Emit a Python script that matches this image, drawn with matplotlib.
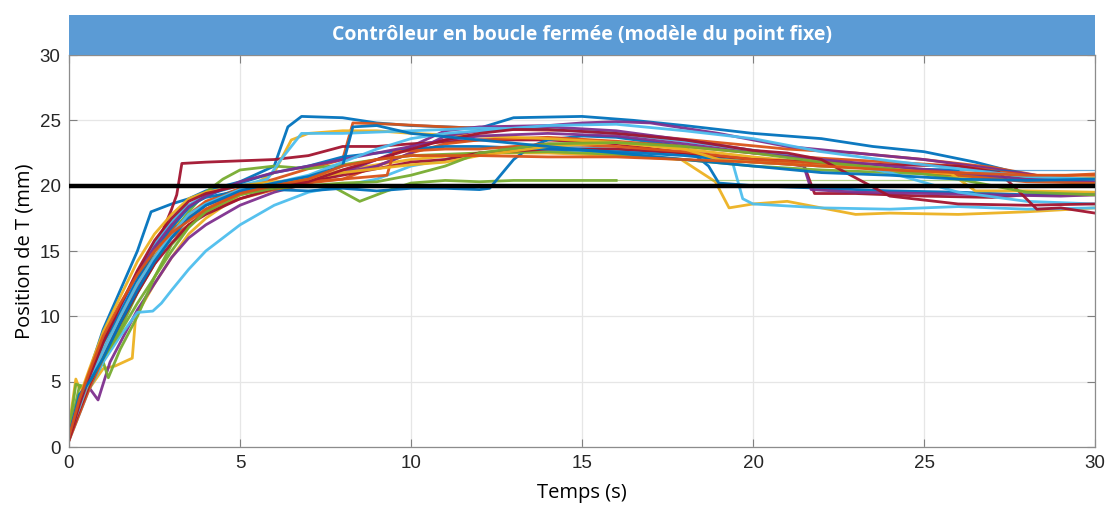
import matplotlib.pyplot as plt
from matplotlib.patches import Rectangle

# essais en boucle fermee : temps (s) et position (mm) de chaque passage
t01 = [0, 0.3, 0.6, 1, 1.5, 2, 2.4, 2.6, 3, 3.5, 4, 5, 6, 6.4, 6.8, 8, 9, 10, 12, 13, 15, 16.5, 18, 20, 22, 23.5, 25, 26.5, 28, 29, 30]
y01 = [0.8, 3.5, 5.8, 9, 12, 15, 18, 18.2, 18.6, 19, 19.6, 20.3, 21.5, 24.5, 25.3, 25.2, 24.8, 24.6, 24.4, 25.2, 25.3, 25, 24.6, 24, 23.6, 23, 22.6, 21.8, 20.8, 20.3, 20.2]
t02 = [0, 0.3, 0.6, 1, 1.5, 2, 2.5, 3, 3.5, 4, 5, 6, 7, 8, 8.3, 9.5, 11, 13, 15, 17, 19, 21, 23, 25, 27, 28.5, 30]
y02 = [0.6, 3, 5.2, 7.5, 10, 12.8, 15, 16.6, 17.8, 18.8, 19.8, 20.5, 21.3, 22, 24.8, 24.7, 24.5, 24.3, 24.2, 23.8, 23.3, 22.8, 22.5, 22, 21.4, 20.7, 20.9]
t03 = [0, 0.2, 0.3, 0.6, 1, 1.35, 1.85, 1.95, 2.5, 3, 3.5, 4, 5, 6, 7, 8, 10, 12, 14, 16, 17.9, 18.9, 19.3, 20, 21, 23, 24, 26, 28, 30]
y03 = [1.5, 5.2, 4.5, 4.5, 6, 6.2, 6.8, 10, 12.5, 14.5, 16.3, 17.5, 19.3, 20, 20.5, 21.2, 22, 22.5, 22.5, 22.3, 22, 20.3, 18.3, 18.6, 18.8, 17.8, 17.9, 17.8, 18, 18.3]
t04 = [0, 0.3, 0.6, 0.85, 1.2, 1.8, 2, 2.5, 3, 3.5, 4, 5, 6, 7, 8, 9, 10, 11, 12, 14, 15, 16, 17, 19, 21, 23, 25, 27, 29, 30]
y04 = [0.8, 3, 4.5, 3.6, 6.5, 9.5, 10.5, 12.5, 14.5, 16, 17, 18.5, 19.5, 20.2, 21, 22, 23, 24.2, 24.5, 24.6, 24.8, 24.9, 24.8, 24, 23, 22.5, 22, 21.3, 20.5, 20.3]
t05 = [0, 0.3, 0.6, 1, 1.15, 1.5, 2, 2.5, 3, 4, 5, 6, 7, 7.8, 8.5, 9.3, 10, 11, 12, 13, 14, 15, 16]
y05 = [1, 4.6, 4.5, 6.5, 5.3, 7.5, 10, 13, 15.5, 18.2, 19.5, 20, 20, 19.8, 18.8, 19.6, 20.2, 20.4, 20.3, 20.4, 20.4, 20.4, 20.4]
t06 = [0, 0.3, 0.6, 1, 1.5, 2, 2.45, 2.7, 3, 3.5, 4, 5, 6, 7, 8, 9, 10, 12, 14, 16, 18, 19.4, 19.7, 20, 22, 24, 26, 28, 30]
y06 = [0.5, 2.5, 4.5, 6.5, 8.5, 10.3, 10.4, 11, 12, 13.6, 15, 17, 18.5, 19.5, 20, 20.5, 21.5, 22.5, 23, 22.8, 22.4, 21.8, 19, 18.6, 18.3, 18.2, 18.4, 18.2, 18.3]
t07 = [0, 0.3, 0.6, 1, 1.5, 2, 2.5, 3, 3.15, 3.3, 4, 5, 6, 7, 8, 9, 10, 12, 14, 16, 18, 20, 21.5, 21.8, 23, 25, 27, 28, 30]
y07 = [0.5, 3, 5, 7, 9.8, 12.5, 15, 18.2, 19.3, 21.7, 21.8, 21.9, 22, 22.3, 23, 23, 23.2, 23.5, 23.5, 23.2, 22.5, 22, 21.5, 19.4, 19.4, 19.2, 19.1, 19.3, 19.3]
t08 = [0, 0.3, 0.6, 1, 1.5, 2, 2.5, 3, 3.5, 4, 5, 6, 7, 8, 9, 10, 11, 12, 12.3, 13, 13.5, 14, 15, 16, 18, 18.7, 19, 20, 22, 24, 26, 28, 30]
y08 = [0.7, 3.2, 5, 7.2, 10, 13, 15.5, 17.3, 18.5, 19.1, 19.6, 19.7, 19.6, 19.8, 19.6, 19.8, 19.8, 19.7, 19.8, 22, 23, 23.5, 23.8, 23.7, 23, 21.5, 20.2, 20, 19.8, 19.6, 19.5, 19.3, 19.4]
t09 = [0, 0.3, 0.6, 1, 1.5, 2, 2.5, 3, 4, 5, 6, 7, 8, 9, 10, 11, 12, 14, 16, 18, 20, 22, 24, 26, 28, 30]
y09 = [0.5, 2.5, 4.5, 6.8, 9.3, 12, 14.3, 16, 18, 19, 19.7, 20.2, 20.5, 21.5, 22.5, 23.2, 23.5, 23.7, 23.4, 23, 22.5, 22.1, 21.8, 21.5, 20.8, 20.5]
t10 = [0, 0.3, 0.6, 1, 1.5, 2, 2.5, 3, 3.5, 4, 5, 6, 6.5, 7, 8, 9, 10, 12, 14, 16, 18, 20, 22, 24, 26, 28, 30]
y10 = [1, 3.8, 5.3, 7.8, 10, 12.5, 14.8, 17, 17.5, 18.5, 19.5, 21, 23.5, 24, 24.2, 24.2, 24, 23.8, 23.6, 23.3, 22.8, 22.2, 21.7, 21.2, 20.7, 20.5, 20.6]
t11 = [0, 0.3, 0.6, 1, 1.5, 2, 2.5, 3, 3.5, 4, 5, 6, 7, 8, 9, 10, 11, 12, 14, 16, 18, 20, 21.4, 21.7, 23, 25, 27, 29, 30]
y11 = [0.8, 3.5, 5, 7.2, 9.5, 12, 14.5, 16.2, 17.5, 18.5, 19.5, 20.2, 20.5, 21, 21.5, 22.5, 23.8, 24.2, 24.5, 24.2, 23.5, 22.7, 22.2, 19.7, 19.5, 19.4, 19.3, 19.2, 19.3]
t12 = [0, 0.2, 0.5, 1, 1.5, 2, 2.5, 3, 3.5, 4, 4.5, 5, 6, 7, 8, 9, 10, 12, 14, 16, 18, 20, 22, 24, 26, 28, 30]
y12 = [1.2, 4.8, 4.6, 6.8, 9, 11.8, 14, 16.3, 18, 19.5, 20.5, 21.2, 21.5, 21.3, 21.6, 22, 22.3, 22.5, 22.6, 22.4, 22, 21.5, 21.2, 21, 20.8, 20.6, 20.5]
t13 = [0, 0.3, 0.6, 1, 1.5, 2, 2.5, 3, 3.5, 4, 5, 5.8, 6.2, 6.8, 8, 10, 12, 14, 16, 18, 20, 22, 24, 26, 28, 30]
y13 = [0.7, 3.3, 5.2, 7.5, 10.3, 13.3, 15.5, 17.3, 18.5, 19.3, 20, 20.5, 22, 24, 24, 24.2, 24.4, 24.3, 24, 23.4, 22.7, 22, 21, 19.5, 18.8, 18.6]
t14 = [0, 0.3, 0.6, 1, 1.5, 2, 2.5, 3, 3.5, 4, 5, 6, 7, 8, 9, 10, 11, 12, 14, 16, 18, 20, 22, 24, 26, 27.2, 27.8, 28.3, 29, 30]
y14 = [0.6, 2.8, 4.8, 7, 9.5, 11.8, 14, 15.6, 17, 17.8, 19, 19.8, 20.3, 20.8, 21.3, 21.8, 22, 22.5, 22.8, 22.8, 22.5, 22, 21.8, 21.6, 21.5, 21, 19.5, 18.2, 18.3, 17.9]
t15 = [0, 0.3, 0.6, 1, 1.5, 2, 2.5, 3, 3.5, 4, 5, 6, 7, 8, 9, 10, 11, 12, 14, 16, 18, 20, 22, 24, 26]
y15 = [0.9, 3.4, 5.4, 8, 10.3, 12.8, 15, 16.8, 18.3, 19.2, 20.2, 21, 21.5, 22.2, 22.5, 22.8, 23, 23, 22.8, 22.6, 22.3, 21.8, 21.5, 21.3, 21.2]
t16 = [0, 0.3, 0.6, 1, 1.5, 2, 2.5, 3, 4, 5, 6, 7, 8, 9.3, 9.5, 11, 12, 13, 14, 16, 18, 20, 22, 24, 26, 28, 30]
y16 = [0.7, 3, 5, 7.3, 10, 12.5, 14.5, 16.5, 18.7, 19.7, 20.2, 20.3, 20.5, 20.8, 22.6, 22.8, 22.8, 23, 23.2, 23, 22.6, 22, 21.7, 21.3, 20.8, 20.3, 20.2]
t17 = [0, 0.3, 0.6, 1, 1.5, 2, 2.5, 3, 3.5, 4, 5, 6, 7, 8, 9, 10, 11, 12, 14, 16, 18, 19, 20, 22, 24, 25.8, 26.5, 28, 30]
y17 = [1, 3.8, 6, 8.8, 11.5, 14.2, 16.3, 17.8, 19, 19.5, 20, 20.3, 20.5, 21, 21.3, 21.6, 21.8, 22.3, 23, 23.3, 22.8, 22, 21.8, 21.5, 21.3, 20.9, 19.6, 19.6, 19.5]
t18 = [0, 0.3, 0.6, 1, 1.5, 2, 2.5, 3, 3.5, 4, 5, 6, 7, 8, 9, 10, 11, 12, 14, 16, 18, 20, 22, 24, 26, 28, 30]
y18 = [0.8, 3.2, 5.6, 8.2, 10.8, 13.3, 15.3, 17, 18.4, 19.2, 20.3, 21, 21.5, 22, 22.5, 23, 23.5, 23.8, 24, 23.8, 23.2, 22.5, 22, 21.5, 21, 20.5, 20.4]
t19 = [0, 0.3, 0.6, 1, 1.5, 2, 2.5, 3, 3.5, 4, 5, 6, 7, 8, 9, 10, 11, 12, 14, 16, 18, 20, 22, 24, 26, 28, 30]
y19 = [1.2, 3.5, 5, 6.8, 8.8, 11, 13, 15, 16.8, 18, 19.3, 19.8, 20, 20.2, 20.3, 20.8, 21.5, 22.5, 23.2, 23.3, 23, 22.5, 21.8, 21.3, 20.5, 19.5, 19.3]
t20 = [0, 0.3, 0.6, 1, 1.5, 2, 2.5, 3, 3.5, 4, 5, 6, 7, 8, 9, 10, 11, 12, 14, 16, 18, 20, 22, 24, 26, 28, 30]
y20 = [1, 3, 5.2, 7.3, 10, 12.5, 14.5, 16.3, 17.8, 18.6, 19.7, 20.2, 20.8, 21.8, 22.8, 23.6, 24, 24.2, 24.6, 24.7, 24.2, 23.6, 22.6, 21.9, 21.3, 20.7, 20.5]
t21 = [0, 0.3, 0.6, 1, 1.5, 2, 2.5, 3, 3.5, 4, 5, 6, 7, 8, 9, 10, 11, 12, 13, 14, 16, 18, 20, 21, 22, 24, 26, 28, 30]
y21 = [0.6, 3.2, 5.4, 8, 10.8, 13.5, 15.8, 17.5, 18.8, 19.4, 20, 20, 20.3, 21.2, 22, 22.8, 23.5, 24, 24.3, 24.3, 24, 23.5, 22.7, 22.5, 22, 19.2, 18.6, 18.5, 18.6]
t22 = [0, 0.3, 0.6, 1, 1.5, 2, 2.5, 3, 3.5, 4, 5, 6, 7, 8, 8.3, 9, 10, 12, 14, 16, 18, 20, 22, 24, 26, 28, 30]
y22 = [0.9, 4, 5, 6.8, 9.5, 12, 14.2, 16, 17.5, 18.5, 19.6, 20.2, 20.7, 21.5, 24.5, 24.6, 24, 23.5, 23, 22.5, 22, 21.5, 21, 20.8, 20.5, 20.4, 20.5]
t23 = [0, 0.3, 0.6, 1, 1.5, 2, 2.5, 3, 4, 5, 6, 7, 8, 9, 10, 12, 14, 16, 18, 20, 22, 24, 26, 28, 30]
y23 = [0.8, 3.6, 5.8, 8.5, 11, 13.2, 15, 16.4, 18.2, 19.4, 20, 20.5, 21.5, 22, 22.3, 22.3, 22.2, 22.2, 22, 21.8, 21.5, 21.2, 21, 20.8, 20.8]

essais = [(t01, y01), (t02, y02), (t03, y03), (t04, y04), (t05, y05), (t06, y06), (t07, y07),
          (t08, y08), (t09, y09), (t10, y10), (t11, y11), (t12, y12), (t13, y13), (t14, y14),
          (t15, y15), (t16, y16), (t17, y17), (t18, y18), (t19, y19), (t20, y20), (t21, y21),
          (t22, y22), (t23, y23)]

consigne = 20  # mm
titre = "Contrôleur en boucle fermée (modèle du point fixe)"

# ordre des couleurs par defaut de MATLAB
couleurs = ['#0072BD', '#D95319', '#EDB120', '#7E2F8E', '#77AC30', '#4DBEEE', '#A2142F']

fig = plt.figure(figsize=(11.08, 5.14), dpi=100)
ax = fig.add_axes([69 / 1108, 67 / 514, 1026 / 1108, 392 / 514])

for i, (t, y) in enumerate(essais):
    c = couleurs[i % len(couleurs)]
    ax.plot(t, y, color=c, lw=2.0, alpha=0.95, solid_joinstyle='round')
    # la derniere valeur est maintenue jusqu'a la fin de l'acquisition
    if t[-1] < 30:
        ax.plot([t[-1], 30], [y[-1], y[-1]], color=c, lw=0.9, alpha=0.6)

ax.axhline(consigne, color='black', lw=3.2, zorder=5)

ax.set_xlim(0, 30)
ax.set_ylim(0, 30)
ax.set_xticks(range(0, 31, 5))
ax.set_yticks(range(0, 31, 5))
ax.grid(True, color='#e6e6e6', lw=0.9)
ax.set_axisbelow(True)
ax.tick_params(direction='in', length=6, width=0.8, color='#808080',
               top=True, right=True, labelsize=13.5, labelcolor='#262626', pad=6)
for lab in ax.get_xticklabels() + ax.get_yticklabels():
    lab.set_family('Liberation Sans')
for s in ax.spines.values():
    s.set_color('#8c8c8c')
    s.set_linewidth(0.9)

ax.set_xlabel("Temps (s)", fontsize=14.5, family='Open Sans', labelpad=8)
ax.set_ylabel("Position de T (mm)", fontsize=14.5, family='Open Sans', labelpad=4)

# bandeau du titre
fig.patches.append(Rectangle((69 / 1108, 459 / 514), 1026 / 1108, 40 / 514,
                             transform=fig.transFigure, facecolor='#5B9BD5',
                             edgecolor='none', zorder=10))
fig.text(582 / 1108, 479 / 514, titre, ha='center', va='center', color='white',
         fontsize=14, fontweight='bold', family='Open Sans', zorder=11)

fig.savefig("out.png", dpi=100)
